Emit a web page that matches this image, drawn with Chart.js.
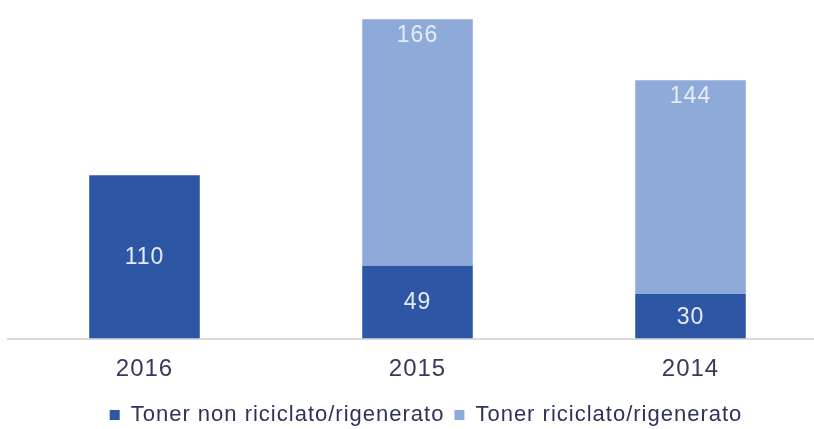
<!DOCTYPE html>
<html>
<head>
<meta charset="utf-8">
<script src="https://cdn.jsdelivr.net/npm/chart.js@4/dist/chart.umd.min.js"></script>
<style>
  html, body { margin: 0; padding: 0; background: #fff; overflow: hidden; }
  #wrap { width: 850px; height: 436px; }
</style>
</head>
<body>
<div id="wrap"><canvas id="barChart" width="850" height="436"></canvas></div>
<script>
const years = ["2016", "2015", "2014"];
const nonRiciclato = [110, 49, 30];
const riciclato = [0, 166, 144];
const seriesNames = ["Toner non riciclato/rigenerato", "Toner riciclato/rigenerato"];

const darkBlue = "#2d56a5";
const lightBlue = "#8eaad9";
const fontFam = "'Liberation Sans', Arial, sans-serif";

// the original text is a bit wider than Arial, so space the letters out a little
const spacing = {
    id: "spacing",
    beforeLayout(chart) { chart.ctx.letterSpacing = "1px"; },
    beforeDraw(chart) { chart.ctx.letterSpacing = "1px"; }
};

// draws the numbers inside the bars
const barLabels = {
    id: "barLabels",
    afterDatasetsDraw(chart) {
        const ctx = chart.ctx;
        ctx.save();
        ctx.font = "23px " + fontFam;
        ctx.fillStyle = "#e6ecf7";
        ctx.textAlign = "center";
        ctx.textBaseline = "middle";
        chart.data.datasets.forEach((ds, di) => {
            const meta = chart.getDatasetMeta(di);
            meta.data.forEach((bar, i) => {
                const v = ds.data[i];
                if (!v) return;
                const y = di === 0 ? (bar.y + bar.base) / 2 : bar.y + 15;
                ctx.fillText(String(v), bar.x, y + 1);
            });
        });
        ctx.restore();
    }
};

new Chart("barChart", {
    type: "bar",
    data: {
        labels: years,
        datasets: [
            { label: seriesNames[0], data: nonRiciclato, backgroundColor: darkBlue },
            { label: seriesNames[1], data: riciclato, backgroundColor: lightBlue }
        ]
    },
    options: {
        responsive: false,
        animation: false,
        layout: { padding: { left: 8, right: 6, top: 0, bottom: 0 } },
        datasets: { bar: { categoryPercentage: 1, barPercentage: 0.405 } },
        scales: {
            x: {
                stacked: true,
                grid: { display: false },
                border: { display: true, color: "#dadada", width: 2 },
                ticks: {
                    padding: 8,
                    color: "#383a5c",
                    font: { family: fontFam, size: 24 }
                },
                afterFit(scale) { scale.height = 55.5; }
            },
            y: {
                stacked: true,
                position: "right",
                min: 0,
                max: 228,
                grid: { display: false },
                border: { display: false },
                ticks: { display: false },
                afterFit(scale) { scale.width = 17; }
            }
        },
        plugins: {
            legend: {
                position: "bottom",
                labels: {
                    boxWidth: 10,
                    boxHeight: 10,
                    padding: 10,
                    color: "#2f3259",
                    font: { family: fontFam, size: 22 }
                }
            },
            tooltip: { enabled: false }
        }
    },
    plugins: [spacing, barLabels]
});
</script>
</body>
</html>
